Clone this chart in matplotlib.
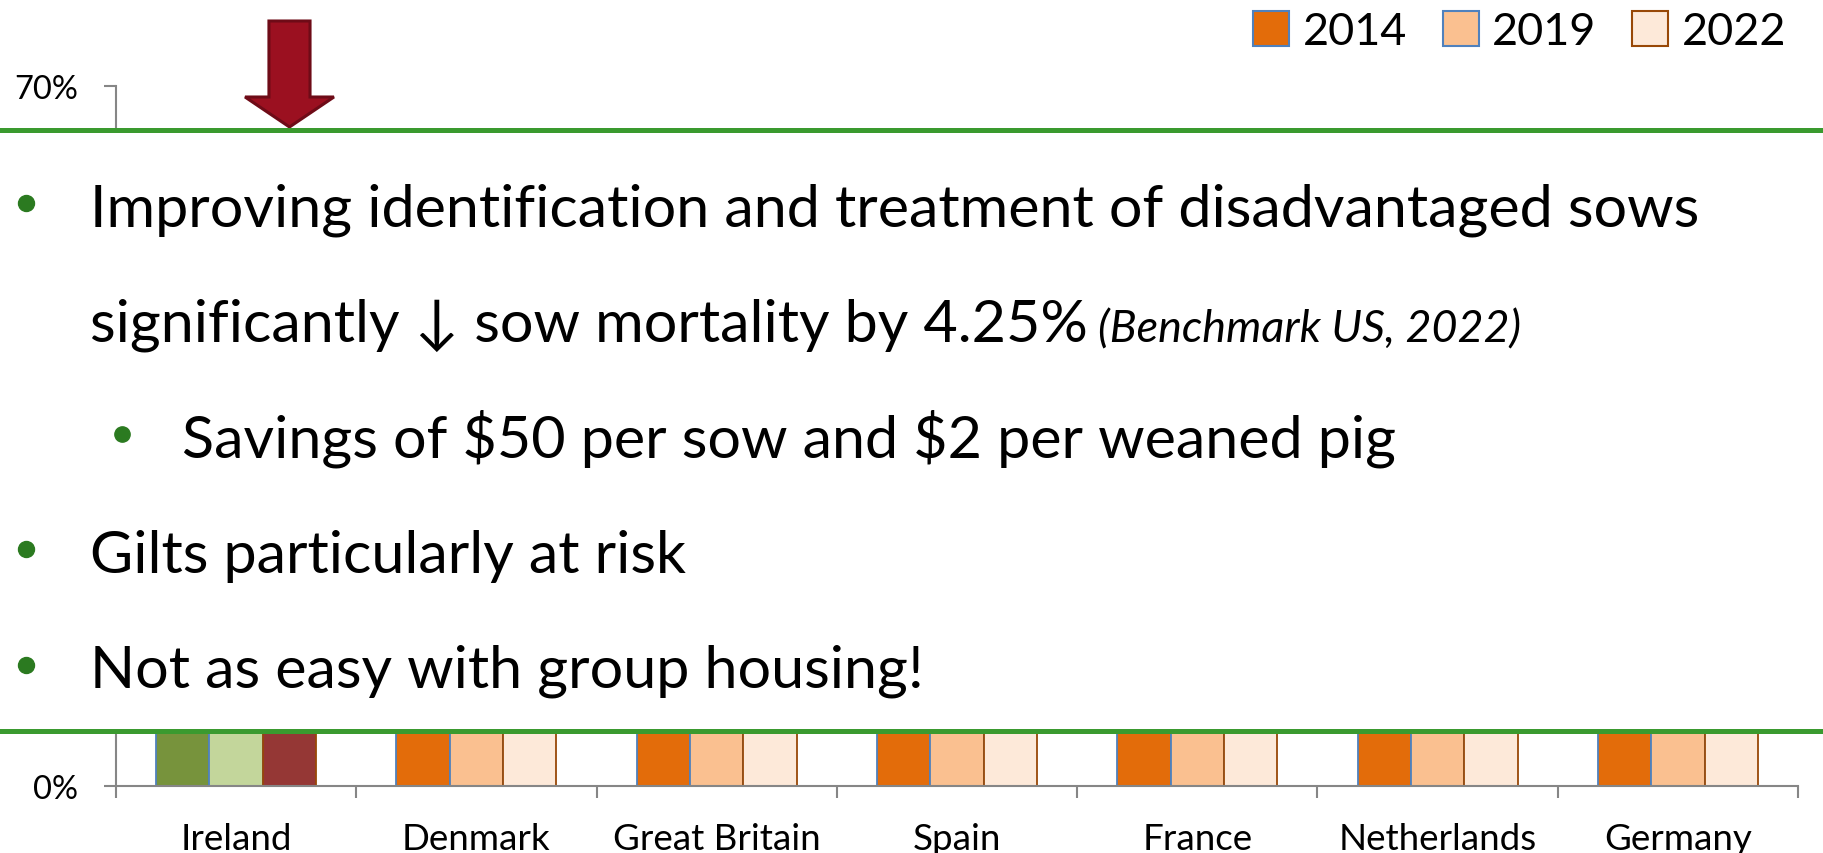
import matplotlib
matplotlib.use("Agg")
import matplotlib.pyplot as plt
from matplotlib.patches import Rectangle, Patch
from matplotlib.lines import Line2D
import numpy as np

# ---------------- data ----------------
categories = ["Ireland", "Denmark", "Great Britain", "Spain", "France", "Netherlands", "Germany"]
years = ["2014", "2019", "2022"]
# values are hidden behind the text panel in the reference (only the bar bases are visible)
vals_2014 = [50, 48, 45, 44, 42, 41, 40]
vals_2019 = [53, 50, 47, 46, 44, 43, 42]
vals_2022 = [58, 52, 49, 48, 46, 45, 44]
y_ticks = [0, 10, 20, 30, 40, 50, 60, 70]
y_tick_labels = ["0%", "10%", "20%", "30%", "40%", "50%", "60%", "70%"]

bullets = [
    "Improving identification and treatment of disadvantaged sows",
    "significantly \u2193 sow mortality by 4.25%",
    "Savings of \\$50 per sow and \\$2 per weaned pig",
    "Gilts particularly at risk",
    "Not as easy with group housing!",
]
citation = "(Benchmark US, 2022)"

# ---------------- style ----------------
series_colors = ["#e36c0a", "#fac090", "#fde9d9"]
ireland_colors = ["#77933c", "#c3d69b", "#953735"]
series_edges = ["#4f81bd", "#4f81bd", "#984807"]
axis_gray = "#868686"
green_line = "#3a9a2f"
bullet_green = "#2b7a20"
FONT = ["Lato", "DejaVu Sans"]

W, H = 1823, 854
def fx(px): return px / W
def fy(py): return 1 - py / H

fig = plt.figure(figsize=(W / 100, H / 100), dpi=100)
renderer = fig.canvas.get_renderer()

def fit_size(s, target_w, style="normal", start=30):
    t = fig.text(0, 0, s, fontsize=start, family=FONT, style=style)
    w = t.get_window_extent(renderer).width
    t.remove()
    return start * target_w / w

ax = fig.add_axes([fx(116), fy(787), (1798 - 116) / W, 700 / H])
ax.set_xlim(-0.5, len(categories) - 0.5)
ax.set_ylim(0, 70)

x = np.arange(len(categories))
bw = 0.222
series = [vals_2014, vals_2019, vals_2022]
for j, vals in enumerate(series):
    cols = [ireland_colors[j] if c == "Ireland" else series_colors[j] for c in categories]
    ax.bar(x + (j - 1) * bw, vals, width=bw, color=cols, edgecolor=series_edges[j],
           linewidth=1.3, zorder=2)

for s in ["top", "right"]:
    ax.spines[s].set_visible(False)
for s in ["left", "bottom"]:
    ax.spines[s].set_color(axis_gray)
    ax.spines[s].set_linewidth(1.5)
    ax.spines[s].set_zorder(3)

tick_fs = fit_size("70%", 64)
lab_fs = fit_size("Great Britain", 207)
ax.set_yticks(y_ticks)
ax.set_yticklabels(y_tick_labels, fontsize=tick_fs, family=FONT)
ax.tick_params(axis="y", length=8.6, width=1.5, color=axis_gray, pad=19)
ax.set_xticks(x)
ax.set_xticklabels(categories, fontsize=lab_fs, family=FONT)
ax.set_xticks(np.arange(-0.5, len(categories)), minor=True)
ax.tick_params(axis="x", which="major", length=0, pad=26)
ax.tick_params(axis="x", which="minor", length=8.6, width=1.5, color=axis_gray)

# red arrow pointing at Ireland 2022
ax.arrow(0 + bw, 76.5, 0, -10.6, width=0.171, head_width=0.37, head_length=3.0,
         length_includes_head=True, facecolor="#9b1020", edgecolor="#6e0b17",
         linewidth=2.2, clip_on=False, zorder=6)

# legend
leg_fs = fit_size("2014", 104)
handles = [Patch(facecolor=series_colors[j], edgecolor=series_edges[j], linewidth=1.5, label=years[j])
           for j in range(3)]
leg = ax.legend(handles=handles, ncol=3, frameon=False, loc="upper right",
                bbox_to_anchor=(fx(1786), fy(12)), bbox_transform=fig.transFigure,
                borderaxespad=0, borderpad=0,
                handlelength=0.8, handleheight=0.8, handletextpad=0.3,
                columnspacing=0.8, prop={"family": FONT, "size": leg_fs})

# text panel covering the chart
fig.add_artist(Rectangle((0, fy(732)), 1, fy(131) - fy(732), transform=fig.transFigure,
                         facecolor="white", edgecolor="none", zorder=5))
for py in (131, 732):
    fig.add_artist(Line2D([0, 1], [fy(py), fy(py)], transform=fig.transFigure,
                          color=green_line, linewidth=3.6, zorder=6))

main_fs = fit_size(bullets[0], 1610)
cite_fs = fit_size(citation, 423, style="italic")
baselines = [227, 342, 457, 573, 688]
lefts = [90, 90, 182, 90, 90]
for s, b, l in zip(bullets, baselines, lefts):
    t = fig.text(fx(l), fy(b), s, fontsize=main_fs, family=FONT, va="baseline",
                 ha="left", zorder=7)
    if s.startswith("significantly"):
        ext = t.get_window_extent(renderer)
        fig.text(fx(ext.x1 + 10), fy(b), citation, fontsize=cite_fs, family=FONT,
                 style="italic", va="baseline", ha="left", zorder=7)

for (bx, by, ms) in [(26, 204, 11.5), (122, 435, 11), (26, 550, 11.5), (26, 666, 11.5)]:
    fig.add_artist(Line2D([fx(bx)], [fy(by)], transform=fig.transFigure, marker="o",
                          markersize=ms, color=bullet_green, linestyle="none", zorder=7))

fig.savefig("out.png", dpi=100)
